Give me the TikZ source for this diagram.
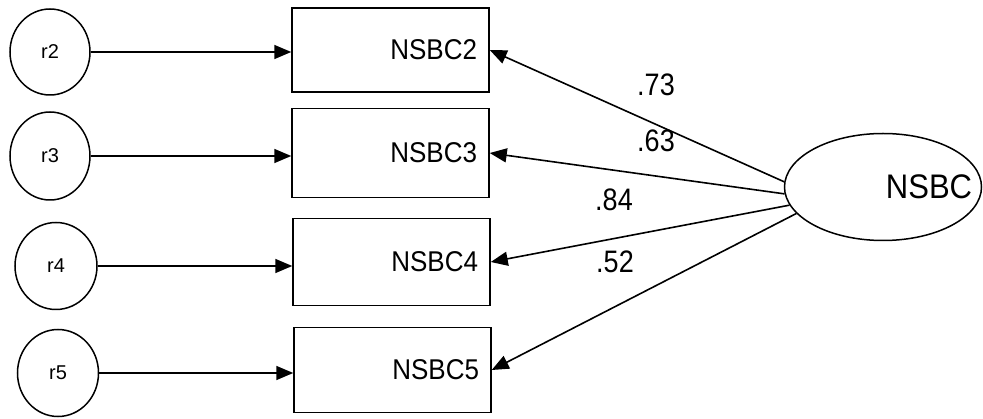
\documentclass[tikz,border=0pt]{standalone}
\usepackage{fontspec}
\setmainfont{Liberation Sans}
\usetikzlibrary{arrows.meta,shapes.geometric}
\begin{document}
\begin{tikzpicture}[x=1pt,y=-1pt,
  errc/.style={draw,ellipse,line width=1.5pt,minimum width=80pt,minimum height=86pt,inner sep=0pt,font=\fontsize{20}{20}\selectfont},
  obsbox/.style={draw,rectangle,line width=1.5pt,minimum width=197pt,text width=173pt,inner xsep=12pt,inner ysep=0pt,align=right,font=\fontsize{26}{26}\selectfont},
  lat/.style={draw,ellipse,line width=1.5pt,minimum width=197pt,minimum height=107pt,inner sep=0pt,font=\fontsize{31}{31}\selectfont},
  coef/.style={inner sep=0pt,font=\fontsize{27}{27}\selectfont},
  conn/.style={line width=1.6pt,-{Triangle[length=17pt,width=14pt]}}]
\useasboundingbox (0,0) rectangle (983,419);
\fill[white] (0,0) rectangle (983,419);
% error terms
\node[errc] (r2) at (50,52) {r2};
\node[errc,minimum height=88pt] (r3) at (50,156) {r3};
\node[errc,minimum width=82pt,minimum height=87pt] (r4) at (56,266) {r4};
\node[errc,minimum width=81pt,minimum height=87pt] (r5) at (58,373) {r5};
% observed variables
\node[obsbox,minimum height=84pt] (b2) at (390.5,50) {\scalebox{1}[1.1]{NSBC2}};
\node[obsbox,minimum height=89pt] (b3) at (390.5,153) {\scalebox{1}[1.1]{NSBC3}};
\node[obsbox,minimum height=87pt] (b4) at (391.5,262) {\scalebox{1}[1.1]{NSBC4}};
\node[obsbox,minimum height=85pt] (b5) at (392.5,370) {\scalebox{1}[1.1]{NSBC5}};
% latent variable
\node[lat] (nsbc) at (883,187) {\makebox[0pt]{\hspace{92pt}\scalebox{1}[1.1]{NSBC}}};
% coefficient labels
\node[coef] (l73) at (656,85) {\scalebox{1}[1.15]{.73}};
\node[coef] (l63) at (656,141) {\scalebox{1}[1.15]{.63}};
\node[coef] (l84) at (614,200) {\scalebox{1}[1.15]{.84}};
\node[coef] (l52) at (615,262) {\scalebox{1}[1.15]{.52}};
% connectors
\draw[conn] (r2.east) -- (r2.east -| b2.west);
\draw[conn] (r3.east) -- (r3.east -| b3.west);
\draw[conn] (r4.east) -- (r4.east -| b4.west);
\draw[conn] (r5.east) -- (r5.east -| b5.west);
\draw[conn] (nsbc.177) -- (b2.east);
\draw[conn] (nsbc.184) -- (b3.east);
\draw[conn] (nsbc.191) -- (b4.east);
\draw[conn] (nsbc.197) -- (b5.east);
\end{tikzpicture}
\end{document}
